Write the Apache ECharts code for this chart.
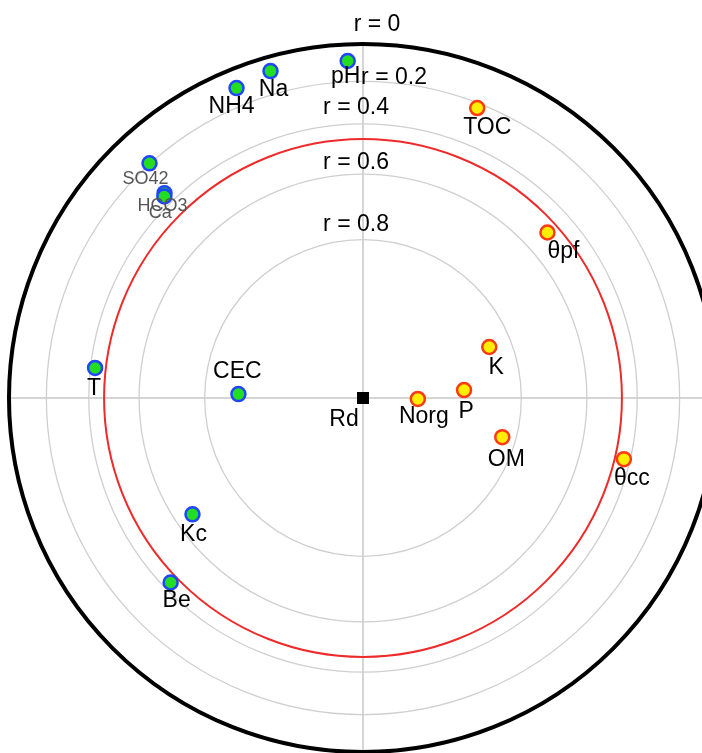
<!DOCTYPE html>
<html><head><meta charset="utf-8">
<script src="https://cdn.jsdelivr.net/npm/echarts@6/dist/echarts.min.js"></script>
<style>html,body{margin:0;padding:0;background:#fff}#c{width:702px;height:753px}</style>
</head><body><div id="c"></div>
<script>
// ---- data (correlation r with Rd, angle in degrees, math convention) ----
const greenNames = ['pH', 'Na', 'NH4', 'SO42', 'HCO3', 'Ca', 'T', 'CEC', 'Kc', 'Be'];
const greenR = [0.092, 0.079, 0.106, 0.197, 0.351, 0.361, 0.42, 0.876, 0.66, 0.433];
const greenAngle = [92.6, 105.8, 112.2, 132.3, 134.1, 134.6, 173.6, 178.2, 214.3, 223.8];

const yellowNames = ['TOC', 'θpf', 'K', 'P', 'Norg', 'OM', 'θcc'];
const yellowR = [0.225, 0.51, 0.852, 0.918, 0.976, 0.833, 0.427];
const yellowAngle = [68.5, 41.9, 22.0, 4.5, 359, 344.3, 346.8];

const refNames = ['Rd'];
const refR = [1];
const refAngle = [0];

const ringR = [0, 0.2, 0.4, 0.6, 0.8];
const thresholdR = 0.465;

// ---- presentation ----
const FONT = "'Liberation Sans', Arial, sans-serif";
const grayLabels = { SO42: 1, HCO3: 1, Ca: 1 };
const labelOffset = {
  pH: [-2, 16], Na: [3, 19], NH4: [-5, 19], SO42: [-4, 16], HCO3: [-2, 13], Ca: [-4, 17],
  T: [-1, 21], CEC: [-1, -22], Kc: [1, 20], Be: [6, 18], Rd: [-19, 22],
  Norg: [6, 18], P: [2, 22], K: [7, 21], OM: [4, 23], 'θcc': [8, 19], TOC: [10, 20], 'θpf': [16, 19]
};
// padding of each ring label (shifts text off the ring crossing)
const ringLabelPad = [[0, 0, 38, 28], [0, 0, 8, 62], [0, 14, 32, 0], [0, 14, 22, 0], [0, 14, 30, 0]];

const toRadius = r => Math.sqrt(1 - r);
const toAngle = a => ((a - 90) % 360 + 360) % 360; // axis starts at top (90°)

function build(names, rs, angles) {
  return names.map((n, i) => {
    const gray = grayLabels[n];
    return {
      name: n,
      value: [toRadius(rs[i]), toAngle(angles[i])],
      label: {
        show: true, position: 'inside', offset: labelOffset[n] || [0, 18],
        formatter: '{b}', color: gray ? '#555' : '#000', opacity: 1,
        textBorderWidth: 0, textBorderColor: 'transparent', textShadowBlur: 0,
        fontSize: gray ? 18 : 23, fontFamily: FONT
      }
    };
  });
}

const ringRadii = ringR.map(toRadius);
const rich = {};
ringR.forEach((r, i) => {
  rich['r' + i] = { padding: ringLabelPad[i], color: '#000', fontSize: 23, fontFamily: FONT };
});

const chart = echarts.init(document.getElementById('c'), null, { renderer: 'canvas' });
chart.setOption({
  backgroundColor: '#fff',
  animation: false,
  polar: [
    { center: [363, 398], radius: 354 },
    { center: [363, 398], radius: 354 }
  ],
  angleAxis: [
    {
      polarIndex: 0, type: 'value', min: 0, max: 360, interval: 90,
      startAngle: 90, clockwise: false,
      axisLine: { show: true, lineStyle: { color: '#000', width: 4 } },
      axisTick: { show: false }, axisLabel: { show: false },
      splitLine: { show: true, lineStyle: { color: '#c8c8c8', width: 1.5 } }
    },
    {
      polarIndex: 1, type: 'value', min: 0, max: 360, interval: 90,
      startAngle: 90, clockwise: false,
      axisLine: { show: false }, axisTick: { show: false }, axisLabel: { show: false },
      splitLine: { show: false }
    }
  ],
  radiusAxis: [
    {
      polarIndex: 0, type: 'value', min: 0, max: 1,
      axisLine: { show: false },
      axisTick: { show: false, customValues: ringRadii.filter(v => v < 1) },
      axisLabel: {
        show: true, customValues: ringRadii,
        formatter: v => {
          const i = ringRadii.findIndex(x => Math.abs(x - v) < 1e-6);
          return i >= 0 ? '{r' + i + '|r = ' + ringR[i] + '}' : '';
        },
        rich: rich,
        margin: 0, align: 'center', verticalAlign: 'middle',
        color: '#000', fontSize: 23, fontFamily: FONT
      },
      splitLine: { show: true, lineStyle: { color: '#cfcfcf', width: 1.3 } },
      z: 3
    },
    {
      polarIndex: 1, type: 'value', min: 0, max: 1,
      axisLine: { show: false },
      axisTick: { show: false, customValues: [toRadius(thresholdR)] },
      axisLabel: { show: false },
      splitLine: { show: true, lineStyle: { color: '#ee2a2a', width: 2 } },
      z: 4
    }
  ],
  series: [
    {
      type: 'scatter', coordinateSystem: 'polar', polarIndex: 0, z: 10,
      symbol: 'circle', symbolSize: 14,
      itemStyle: { color: '#22dd22', borderColor: '#1f45ff', borderWidth: 2.5, opacity: 1 },
      data: build(greenNames, greenR, greenAngle)
    },
    {
      type: 'scatter', coordinateSystem: 'polar', polarIndex: 0, z: 10,
      symbol: 'circle', symbolSize: 14,
      itemStyle: { color: '#ffee00', borderColor: '#ff3a10', borderWidth: 2.5, opacity: 1 },
      data: build(yellowNames, yellowR, yellowAngle)
    },
    {
      type: 'scatter', coordinateSystem: 'polar', polarIndex: 0, z: 11,
      symbol: 'rect', symbolSize: 12,
      itemStyle: { color: '#000', opacity: 1 },
      data: build(refNames, refR, refAngle)
    }
  ]
});
</script>
</body></html>
